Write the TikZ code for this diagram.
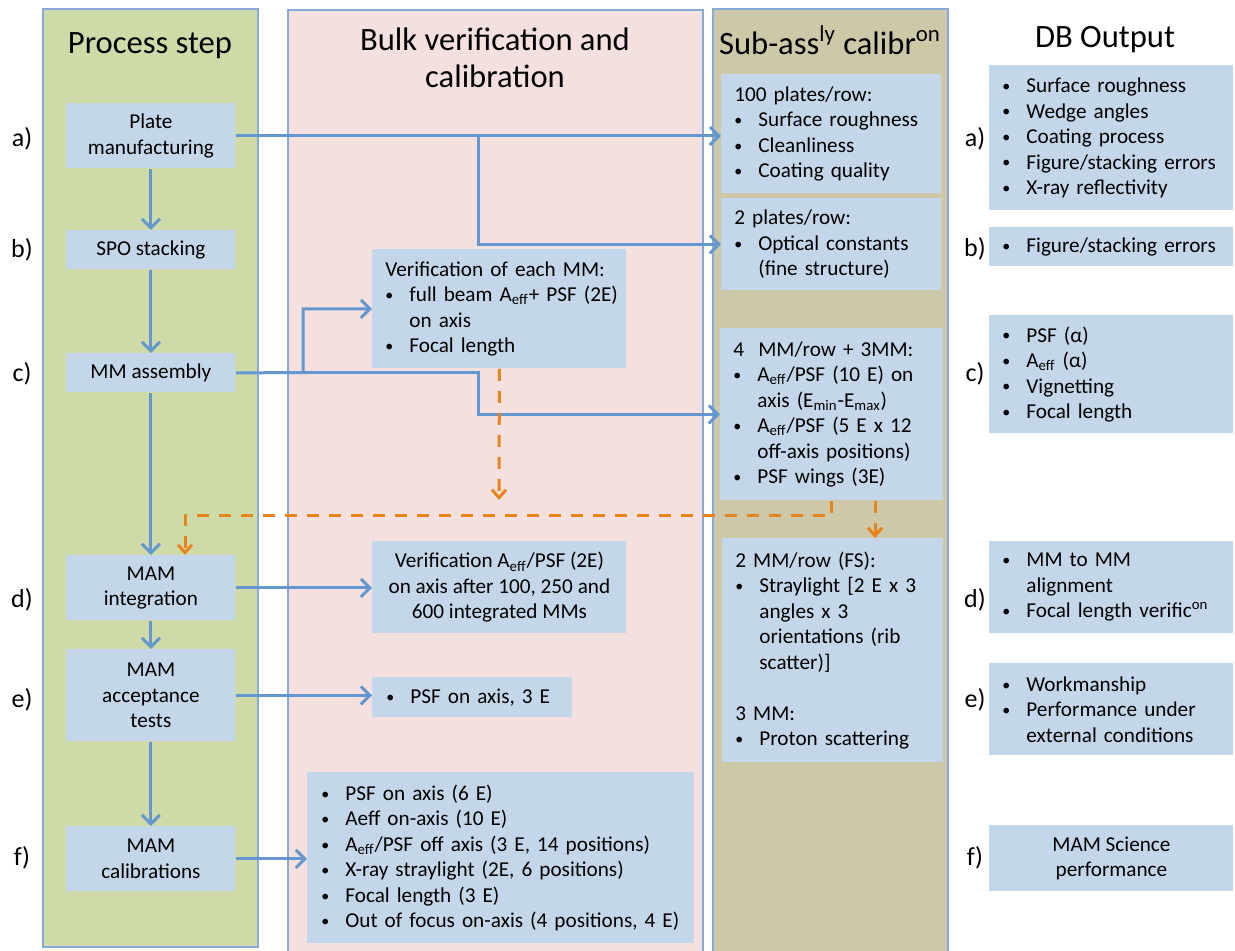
\documentclass[tikz,border=0pt]{standalone}
\usepackage{fontspec}
\setmainfont{Carlito}
\usetikzlibrary{arrows.meta}

\definecolor{procgreen}{HTML}{CEDBA9}
\definecolor{bulkpink}{HTML}{F3E0DF}
\definecolor{subtan}{HTML}{CDC8A8}
\definecolor{cellblue}{HTML}{C4D6EA}
\definecolor{flowblue}{HTML}{6497CE}
\definecolor{colline}{HTML}{88AAD6}
\definecolor{feedorange}{HTML}{E8841C}

\newcommand{\bodyfont}{\fontsize{10.6}{12.75}\selectfont}
\newcommand{\headfont}{\fontsize{16.3}{18.5}\selectfont}
\newcommand{\steplabelfont}{\fontsize{13}{14}\selectfont}
\newcommand{\itm}[1]{\mbox{\makebox[12pt][l]{\raisebox{0.6pt}{\scalebox{0.75}{\textbullet}}}#1}}
\newcommand{\ind}[1]{\mbox{\hspace*{12pt}#1}}

\begin{document}
\begin{tikzpicture}[x=0.5pt,y=-0.5pt,
  box/.style={fill=cellblue,anchor=north west,inner sep=0pt,align=center,font=\bodyfont},
  list/.style={fill=cellblue,anchor=north west,inner ysep=0pt,inner xsep=6.5pt,align=left,font=\bodyfont},
  title/.style={font=\headfont,align=center},
  tag/.style={font=\steplabelfont},
  flow/.style={draw=flowblue,line width=1.5pt,-{Straight Barb[length=4.5pt,width=9pt]}},
  feed/.style={draw=feedorange,line width=1.5pt,dash pattern=on 6pt off 5pt,-{Straight Barb[length=4pt,width=7pt]}}]

\useasboundingbox (0,0) rectangle (1235,950);

% columns
\filldraw[fill=procgreen,draw=colline,line width=0.6pt] (43,9) rectangle (258,947);
\filldraw[fill=bulkpink,draw=colline,line width=0.6pt] (288,10) rectangle (703,952);
\filldraw[fill=subtan,draw=colline,line width=0.6pt] (713,9) rectangle (948,952);

\node[title] (tproc) at (150,46) {Process step};
\node[title] (tbulk) at (495,58) {Bulk verification and\\calibration};
\node[title] (tsub) at (830,40) {Sub-ass\textsuperscript{ly} calibr\textsuperscript{on}};
\node[title] (tdb) at (1105,40) {DB Output};

% process steps
\node[box,minimum width=84.5pt,minimum height=32.5pt] (plate) at (66,103) {Plate\\manufacturing};
\node[box,minimum width=84.5pt,minimum height=19.5pt] (spo) at (66,230) {SPO stacking};
\node[box,minimum width=84.5pt,minimum height=19.5pt] (mm) at (66,353) {MM assembly};
\node[box,minimum width=84.5pt,minimum height=32.5pt] (mamint) at (66,555) {MAM\\integration};
\node[box,minimum width=84.5pt,minimum height=46pt] (mamacc) at (66,649) {MAM\\acceptance\\tests};
\node[box,minimum width=84.5pt,minimum height=32.5pt] (mamcal) at (66,826) {MAM\\calibrations};

\node[tag] (la) at (22,139) {a)};
\node[tag] (lb) at (22,250) {b)};
\node[tag] (lc) at (22,374) {c)};
\node[tag] (ld) at (22,600) {d)};
\node[tag] (le) at (22,700) {e)};
\node[tag] (lf) at (22,858) {f)};

% bulk verification
\node[list,text width=114pt,minimum height=59.5pt,inner xsep=6.5pt] (verone) at (372,249)
  {Verification of each MM:\\\itm{full beam A\textsubscript{eff}+ PSF (2E)}\\\ind{on axis}\\\itm{Focal length}};
\node[box,minimum width=127pt,minimum height=46pt] (vertwo) at (372,541)
  {Verification A\textsubscript{eff}/PSF (2E)\\on axis after 100, 250 and\\600 integrated MMs};
\node[list,text width=86pt,minimum height=20pt,inner xsep=7pt] (psfax) at (372,677)
  {\itm{PSF on axis, 3 E}};
\node[list,text width=179.5pt,minimum height=85.5pt,inner xsep=7pt] (fullcal) at (307,772)
  {\itm{PSF on axis (6 E)}\\\itm{Aeff on-axis (10 E)}\\\itm{A\textsubscript{eff}/PSF off axis (3 E, 14 positions)}\\
   \itm{X-ray straylight (2E, 6 positions)}\\\itm{Focal length (3 E)}\\\itm{Out of focus on-axis (4 positions, 4 E)}};

% sub-assembly calibration
\node[list,text width=97pt,minimum height=59.5pt] (s100) at (721,74)
  {100 plates/row:\\\itm{Surface roughness}\\\itm{Cleanliness}\\\itm{Coating quality}};
\node[list,text width=97pt,minimum height=46pt] (s2) at (721,198)
  {2 plates/row:\\\itm{Optical constants}\\\ind{(fine structure)}};
\node[list,text width=98.5pt,minimum height=86pt] (sub4) at (720,328)
  {4\ \ MM/row + 3MM:\\\itm{A\textsubscript{eff}/PSF (10 E) on}\\\ind{axis (E\textsubscript{min}-E\textsubscript{max})}\\
   \itm{A\textsubscript{eff}/PSF (5 E x 12}\\\ind{off-axis positions)}\\\itm{PSF wings (3E)}};
\node[list,text width=97.5pt,minimum height=112pt] (sub5) at (722,538)
  {2 MM/row (FS):\\\itm{Straylight [2 E x 3}\\\ind{angles x 3}\\\ind{orientations (rib}\\\ind{scatter)]}\\[12.75pt]
   3 MM:\\\itm{Proton scattering}};

% DB output
\node[list,text width=109pt,minimum height=72.5pt] (da) at (989,65)
  {\itm{Surface roughness}\\\itm{Wedge angles}\\\itm{Coating process}\\\itm{Figure/stacking errors}\\\itm{X-ray reflectivity}};
\node[list,text width=109pt,minimum height=19.5pt] (dbx) at (989,227)
  {\itm{Figure/stacking errors}};
\node[list,text width=109pt,minimum height=59pt] (dc) at (989,315)
  {\itm{PSF (α)}\\\itm{A\textsubscript{eff} (α)}\\\itm{Vignetting}\\\itm{Focal length}};
\node[list,text width=109pt,minimum height=46pt] (dd) at (989,541)
  {\itm{MM to MM}\\\ind{alignment}\\\itm{Focal length verific\textsuperscript{on}}};
\node[list,text width=109pt,minimum height=46pt] (de) at (989,663)
  {\itm{Workmanship}\\\itm{Performance under}\\\ind{external conditions}};
\node[box,minimum width=122pt,minimum height=33pt] (df) at (989,825) {MAM Science\\performance};

\node[tag] (ra) at (975,139) {a)};
\node[tag] (rb) at (975,249) {b)};
\node[tag] (rc) at (975,374) {c)};
\node[tag] (rd) at (975,600) {d)};
\node[tag] (re) at (975,700) {e)};
\node[tag] (rf) at (975,858) {f)};

% process flow
\draw[flow] (plate.south) -- (spo.north);
\draw[flow] (spo.south) -- (mm.north);
\draw[flow] (mm.south) -- (mamint.north);
\draw[flow] (mamint.south) -- (mamacc.north);
\draw[flow] (mamacc.south) -- (mamcal.north);

% to verification and calibration
\coordinate (split1) at (478,135.5);
\coordinate (split2) at (303,372.5);
\coordinate (bend2) at (478,372.5);
\draw[flow] (plate.east) -- (plate.east -| s100.west);
\draw[flow] (split1) |- (s2.west);
\draw[flow] (mm.east) -- (split2) |- (verone.west);
\draw[flow] (split2) -- (bend2) |- (sub4.west);
\draw[flow] (mamint.east) -- (mamint.east -| vertwo.west);
\draw[flow] (mamacc.east) -- (mamacc.east -| psfax.west);
\draw[flow] (mamcal.east) -- (mamcal.east -| fullcal.west);

% feedback
\coordinate (drop1) at (499,500);
\coordinate (drop2) at (185,555);
\coordinate (drop3) at (875,0);
\draw[feed] (verone.south) -- (drop1);
\draw[feed] (sub4.south) -- ++(0,15) -| (drop2);
\draw[feed] (sub4.south -| drop3) -- (sub5.north -| drop3);

\end{tikzpicture}
\end{document}
